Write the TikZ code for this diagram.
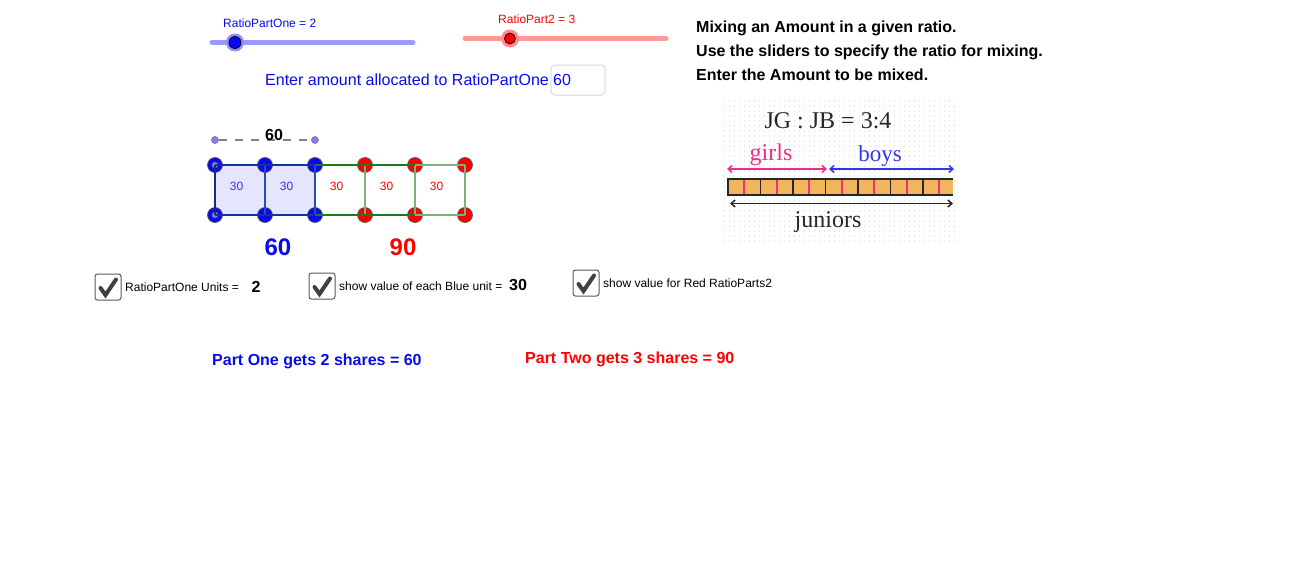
\documentclass[tikz,border=0pt]{standalone}
\usepackage{fontspec}
\setmainfont{Liberation Sans}
\newfontfamily\serifpic{Liberation Serif}
\usetikzlibrary{arrows.meta}
\definecolor{bluept}{HTML}{0A0AF0}
\definecolor{redpt}{HTML}{FF0000}
\definecolor{darkbl}{HTML}{0F3596}
\definecolor{midbl}{HTML}{2A4BB5}
\definecolor{navy}{HTML}{1A2A80}
\definecolor{dkgreen}{HTML}{1C7A1C}
\definecolor{ltgreen}{HTML}{7DB07D}
\definecolor{pinkc}{HTML}{F02C88}
\definecolor{bluec}{HTML}{3434F0}
\definecolor{barfill}{HTML}{F2B55A}
\definecolor{dotc}{HTML}{BFE0C4}
\newcommand{\fs}[1]{\fontsize{#1}{#1}\selectfont}
\tikzset{
  x=1pt,y=-1pt,
  txt/.style={inner sep=0pt,anchor=base west,font=\fs{#1}},
  txt/.default=16,
  ctr/.style={inner sep=0pt,anchor=base,font=\fs{#1}\bfseries},
  bpt/.style={circle,draw=black!65,line width=.7pt,fill=bluept,minimum size=15pt,inner sep=0pt},
  rpt/.style={circle,draw=black!65,line width=.7pt,fill=redpt,minimum size=15pt,inner sep=0pt},
  spt/.style={circle,draw=black!60,line width=.5pt,fill=blue!50!white,minimum size=7pt,inner sep=0pt},
  unit/.style={inner sep=0pt,anchor=base,font=\fs{12}},
  track/.style={line width=5pt,line cap=round},
  chk/.style={draw=black!65,line width=1pt,rounded corners=2.5pt,minimum size=26pt,inner sep=0pt,fill=white},
  tick/.style={line width=4pt,draw=black!75,line cap=round,line join=miter},
  imgtxt/.style={inner sep=0pt,anchor=base,font=\serifpic\fs{#1}},
  dblarrow/.style={line width=1.5pt,{Straight Barb[length=4pt,width=7pt]}-{Straight Barb[length=4pt,width=7pt]}},
}
\begin{document}
\begin{tikzpicture}
\path[use as bounding box,fill=white] (0,0) rectangle (1296,584);

% sliders
\node[txt=12,text=bluept] (labA) at (223,27) {RatioPartOne = 2};
\coordinate (sAa) at (212,42.5); \coordinate (sAb) at (413,42.5);
\draw[track,color=blue!40!white] (sAa) -- (sAb);
\fill[blue!45!white] (235,42.5) circle (9);
\node[circle,draw=black,line width=.7pt,fill=bluept,minimum size=12pt,inner sep=0pt] (knobA) at (235,42.5) {};
\node[txt=12,text=redpt] (labB) at (498,23) {RatioPart2 = 3};
\coordinate (sBa) at (465,38.5); \coordinate (sBb) at (666,38.5);
\draw[track,color=red!40!white] (sBa) -- (sBb);
\fill[red!45!white] (510,38.5) circle (9);
\node[circle,draw=black,line width=.7pt,fill=redpt,minimum size=11pt,inner sep=0pt] (knobB) at (510,38.5) {};

% input
\node[txt=16,text=bluept] (enter) at (265,85.5) {Enter amount allocated to RatioPartOne};
\draw[black!15,line width=1pt,rounded corners=4pt] (551,65) rectangle (605,95);
\node[txt=16,text=bluept] (val) at (553,85.5) {60};

% instructions
\node[txt=16,font=\fs{16}\bfseries] (i1) at (696,32) {Mixing an Amount in a given ratio.};
\node[txt=16,font=\fs{16}\bfseries] (i2) at (696,56) {Use the sliders to specify the ratio for mixing.};
\node[txt=16,font=\fs{16}\bfseries] (i3) at (696,80) {Enter the Amount to be mixed.};

% squares
\fill[blue!10!white] (215,165) rectangle (315,215);
\foreach \n/\x in {1/215,2/265,3/315}{
  \node[bpt] (t\n) at (\x,165) {};
  \node[bpt] (u\n) at (\x,215) {};
}
\foreach \n/\x in {4/365,5/415,6/465}{
  \node[rpt] (t\n) at (\x,165) {};
  \node[rpt] (u\n) at (\x,215) {};
}
\node[spt] (k1) at (215,140) {};
\node[spt] (k2) at (315,140) {};
\node[spt,minimum size=6pt] (k3) at (215,165) {};
\node[spt,minimum size=6pt] (k4) at (215,215) {};
\draw[black!50,line width=1.6pt,dash pattern=on 8pt off 8pt] (k1) -- (k2);
\draw[ltgreen,line width=1.7pt] (t4.center) -- (u4.center) (t5.center) -- (u5.center) (t6.center) -- (u6.center)
  (t5.center) -- (t6.center) (u5.center) -- (u6.center);
\draw[dkgreen,line width=1.7pt] (t3.center) -- (t5.center) (u3.center) -- (u5.center);
\draw[navy,line width=1.7pt] (t1.center) -- (u1.center);
\draw[midbl,line width=1.7pt] (t2.center) -- (u2.center) (t3.center) -- (u3.center);
\draw[darkbl,line width=1.7pt] (t1.center) -- (t3.center) (u1.center) -- (u3.center);
\node[ctr=16] (lab60) at (274,140.5) {60};
\foreach \x/\c/\n in {236.5/bluec/a,286.5/bluec/b,336.5/red/c,386.5/red/d,436.5/red/e}{
  \node[unit,text=\c] (v\n) at (\x,190.5) {30};
}
\node[ctr=24,text=bluept] (tot1) at (278,255) {60};
\node[ctr=24,text=redpt] (tot2) at (403,255) {90};

% checkboxes
\node[chk] (c1) at (108,287) {};
\draw[tick] (100.5,288) -- (105.5,295) -- (116,279.5);
\node[txt=12] (ct1) at (125,291) {RatioPartOne Units =};
\node[ctr=16] (cv1) at (256,292.5) {2};
\node[chk] (c2) at (322,286) {};
\draw[tick] (314.5,287) -- (319.5,294) -- (330,278.5);
\node[txt=12] (ct2) at (339,290) {show value of each Blue unit =};
\node[ctr=16] (cv2) at (518,290) {30};
\node[chk] (c3) at (586,283) {};
\draw[tick] (578.5,284) -- (583.5,291) -- (594,275.5);
\node[txt=12] (ct3) at (603,287) {show value for Red RatioParts2};

% results
\node[txt=16,font=\fs{16}\bfseries,text=bluept] (r1) at (212,365) {Part One gets 2 shares = 60};
\node[txt=16,font=\fs{16}\bfseries,text=redpt] (r2) at (525,363) {Part Two gets 3 shares = 90};

% picture
\foreach \i in {0,...,46}{\foreach \j in {0,...,28}{
  \fill[dotc] (724.5+\i*5,101+\j*5) circle (.55);
}}
\node[imgtxt=24,text=black!85] (jg) at (828,128) {JG : JB = 3:4};
\node[imgtxt=24,text=pinkc] (girls) at (771,160) {girls};
\node[imgtxt=23,text=bluec] (boys) at (880,161) {boys};
\node[imgtxt=24,text=black!85] (jun) at (828,227) {juniors};
\coordinate (ga) at (727,169); \coordinate (gb) at (827,169);
\coordinate (ba) at (829,169); \coordinate (bb) at (954,169);
\coordinate (ja) at (730,203.5); \coordinate (jb) at (953,203.5);
\draw[dblarrow,pinkc] (ga) -- (gb);
\draw[dblarrow,bluec] (ba) -- (bb);
\draw[dblarrow,black!85] (ja) -- (jb);
\fill[white] (727,178) rectangle (954,196);
\fill[barfill] (728,179) rectangle (953,195);
\foreach \x in {744.3,776.8,809.2,841.7,874.2,906.7,939.2}{
  \draw[pinkc,line width=1.8pt] (\x,179) -- (\x,195);
}
\foreach \x in {760.7,793.2,825.7,858.2,890.7,923.2}{
  \draw[black!85,line width=1.5pt] (\x,179) -- (\x,195);
}
\draw[black!85,line width=1.5pt] (953,179) -- (728,179) -- (728,195) -- (953,195);
\end{tikzpicture}
\end{document}
